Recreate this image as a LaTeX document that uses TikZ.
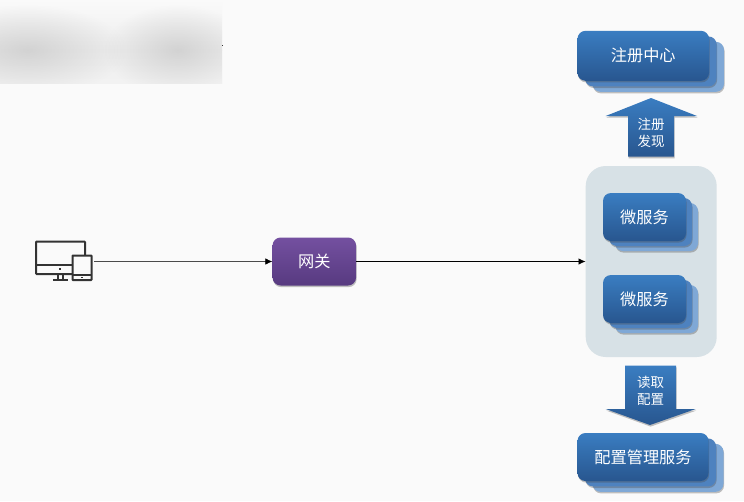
\documentclass[tikz,border=0pt]{standalone}
\usepackage{fontspec}
\setmainfont{Noto Sans CJK SC}
\usetikzlibrary{shadows,fadings,arrows.meta}
\definecolor{pagebg}{HTML}{FAFAFA}
\definecolor{bluetop}{HTML}{3A7DC1}
\definecolor{bluebot}{HTML}{28568F}
\definecolor{bluemid}{HTML}{4E82BF}
\definecolor{blueback}{HTML}{7FA8D6}
\definecolor{paneltint}{HTML}{D7E1E6}
\definecolor{purptop}{HTML}{7450A0}
\definecolor{purpbot}{HTML}{573A80}
\definecolor{iconink}{HTML}{333333}
\tikzfading[name=blobfade,inner color=transparent!0,outer color=transparent!100]
\tikzset{
  softshadow/.style={drop shadow={shadow xshift=0.6pt,shadow yshift=-1.6pt,opacity=0.35,fill=black!70}},
  frontbox/.style={rectangle,rounded corners=8pt,top color=bluetop,bottom color=bluebot,draw=none,
    text=white,font=\fontsize{16.2}{18}\selectfont,inner sep=0pt,softshadow},
  layerbox/.style={rectangle,rounded corners=8pt,fill=#1,draw=none,inner sep=0pt,softshadow},
  gatewaybox/.style={frontbox,top color=purptop,bottom color=purpbot},
  panelbox/.style={rectangle,rounded corners=20pt,fill=paneltint,draw=none,inner sep=0pt},
  bigarrow/.style={top color=bluetop,bottom color=bluebot,draw=none,softshadow},
  arrowtext/.style={text=white,align=center,font=\fontsize{13.5}{17}\selectfont,inner sep=0pt},
  conn/.style={-{Latex[length=7pt,width=6.5pt,black]},black,line width=0.7pt},
  iconline/.style={draw=iconink,line width=2pt,fill=none},
}
\newcommand{\stackbox}[6]{%
  \node[layerbox=blueback,minimum width=#3-#1,minimum height=#4-#2] at ({(#1+#3)/2+2*#5},{(#2+#4)/2+2*#6}) {};
  \node[layerbox=bluemid,minimum width=#3-#1,minimum height=#4-#2] at ({(#1+#3)/2+#5},{(#2+#4)/2+#6}) {};
}
\begin{document}
\begin{tikzpicture}[x=1pt,y=-1pt]
\useasboundingbox (0,0) rectangle (744,501);
\fill[pagebg] (0,0) rectangle (744,501);

% blurred patch at the top left
\shade[top color=pagebg,bottom color=black!7] (0,0) rectangle (222,50);
\shade[top color=black!7,bottom color=black!5] (0,50) rectangle (222,83);
\begin{scope}
\clip (0,0) rectangle (222,83);
\fill[black!26,opacity=0.55,path fading=blobfade] (-70,5) rectangle (125,95);
\fill[black!26,opacity=0.55,path fading=blobfade] (105,5) rectangle (250,95);
\end{scope}
\fill[iconink] (221.7,44.6) rectangle (223,46.4);

% right-hand panel
\node[panelbox,minimum width=131pt,minimum height=191pt] (panel) at (651.2,261.5) {};

% registry
\stackbox{577.5}{31}{709}{81}{7.5}{5.4}
\node[frontbox,minimum width=131.5pt,minimum height=50pt] (registry) at (643.25,55.8) {注册中心};

% services
\stackbox{603}{193}{686}{241}{6}{5}
\node[frontbox,minimum width=83pt,minimum height=48pt] (svcone) at (644.5,217) {微服务};
\stackbox{603}{275}{686}{323}{6}{5}
\node[frontbox,minimum width=83pt,minimum height=48pt] (svctwo) at (644.5,299) {微服务};

% config
\stackbox{577.5}{433}{708.5}{481}{7.5}{5.4}
\node[frontbox,minimum width=131pt,minimum height=48pt] (config) at (643,457) {配置管理服务};

% gateway
\node[gatewaybox,minimum width=83.5pt,minimum height=48pt] (gateway) at (314.3,261.5) {网关};

% block arrows
\path[bigarrow] (651,98) -- (697,116) -- (674,116) -- (674,156.7) -- (628,156.7) -- (628,116) -- (605.7,116) -- cycle;
\node[arrowtext] (uplabel) at (651,133) {注册\\发现};
\path[bigarrow] (625,365.7) -- (676,365.7) -- (676,409) -- (695.7,409) -- (650,425) -- (605.7,409) -- (625,409) -- cycle;
\node[arrowtext] (downlabel) at (650.5,391) {读取\\配置};

% client icon
\draw[iconline,rounded corners=0.8pt] (72,274) -- (36,274) -- (36,241.5) -- (85,241.5) -- (85,255);
\draw[iconline] (36,265) -- (72,265);
\fill[iconink] (59,268.4) rectangle (60.8,270.2);
\draw[iconline,line width=1.4pt] (58,274) -- (58,279.5) (63,274) -- (63,279.5);
\draw[iconline] (53,279.8) -- (68,279.8);
\draw[iconline,rounded corners=0.6pt] (72.5,255.5) rectangle (91.5,280);
\draw[iconline,line width=1.4pt] (72.5,275) -- (91.5,275);
\fill[iconink] (81,276.8) rectangle (82.8,278.4);
\node[minimum width=59pt,minimum height=40pt,inner sep=0pt] (client) at (64.5,261.5) {};

% connectors
\draw[conn,draw=black!70!pagebg] (client.east) -- (gateway.west);
\draw[conn] (gateway.east) -- (panel.west);
\end{tikzpicture}
\end{document}
